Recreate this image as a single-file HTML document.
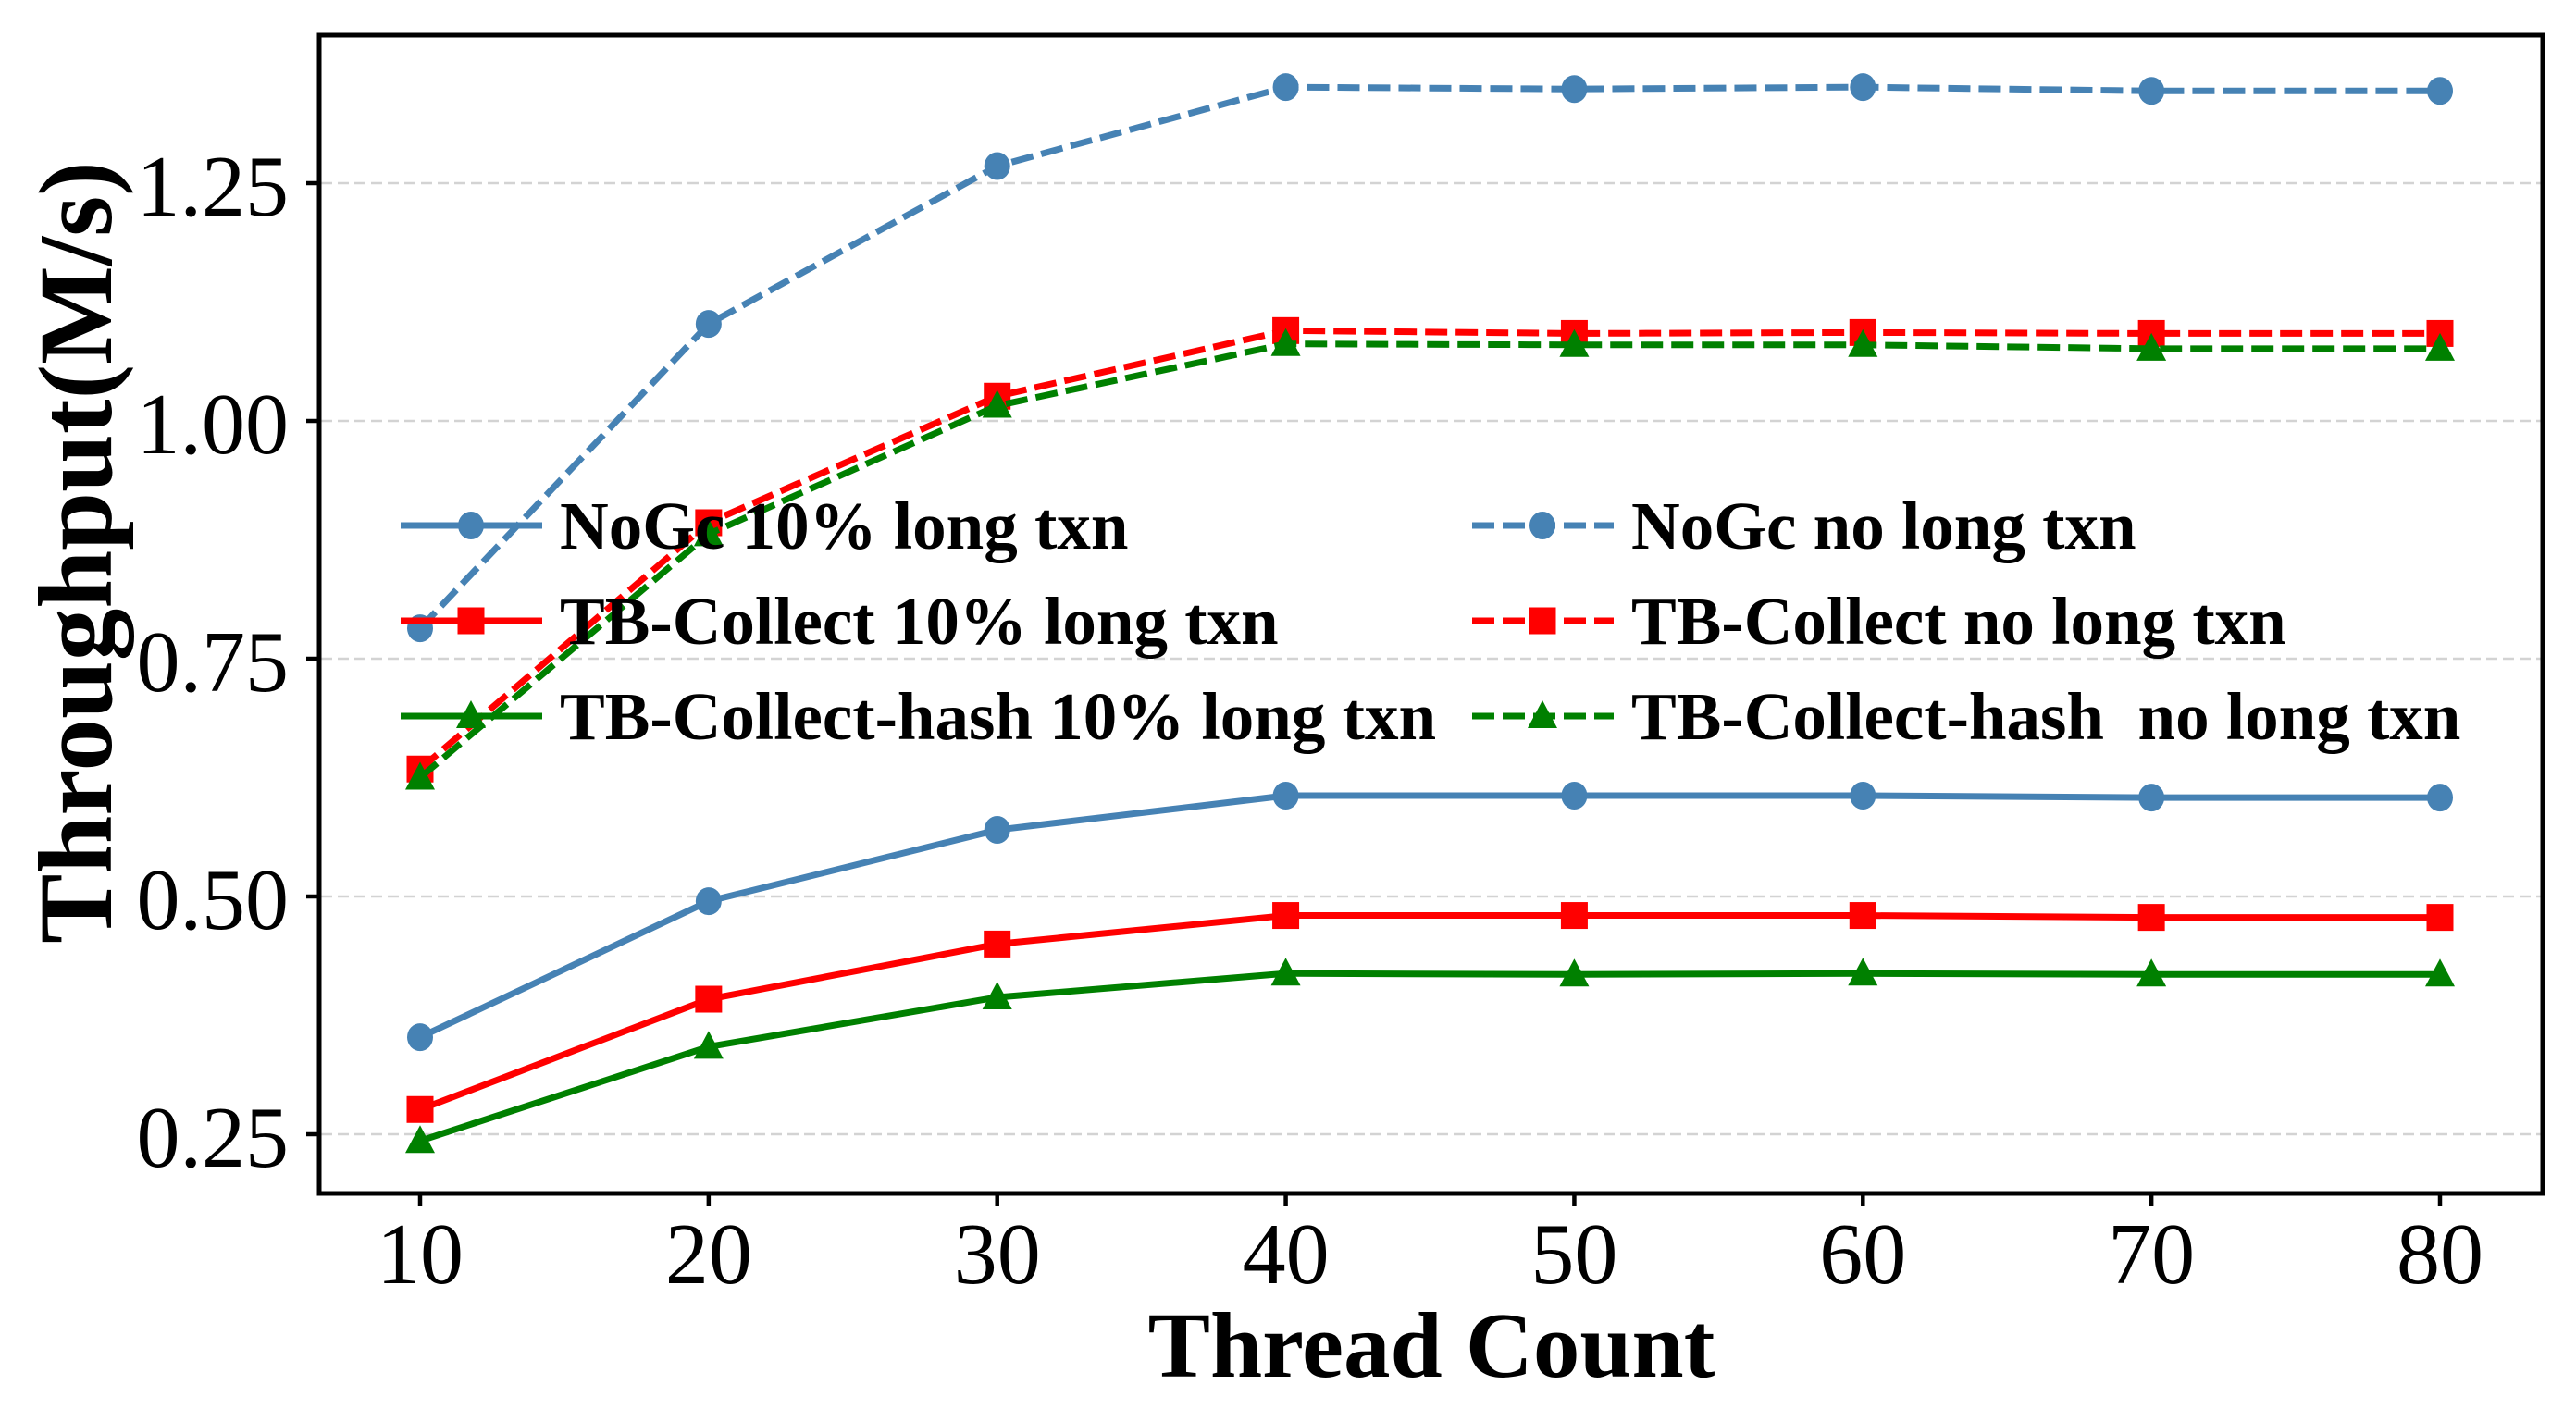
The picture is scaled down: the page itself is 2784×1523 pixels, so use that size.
<!DOCTYPE html>
<html><head><meta charset="utf-8"><style>
html,body{margin:0;padding:0;background:#fff}
svg{display:block}
text{font-family:"Liberation Serif","Times New Roman",serif;fill:#000}
</style></head><body>
<svg id="chart" width="2784" height="1523" viewBox="0 0 2784 1523" xmlns="http://www.w3.org/2000/svg">
<g id="grid"></g>
<g id="series"></g>
<rect x="345" y="38" width="2403" height="1252" fill="none" stroke="#000" stroke-width="5"/>
<g id="axes"></g>
<g id="legend"></g>
<text x="1547" y="1488" font-size="101" font-weight="bold" text-anchor="middle">Thread Count</text>
<text x="0" y="0" font-size="113" font-weight="bold" text-anchor="middle" transform="translate(120,597) rotate(-90)">Throughput(M/s)</text>
</svg>
<script>
const threads = [10,20,30,40,50,60,70,80];
const yTicks = [0.25,0.50,0.75,1.00,1.25];
const yTickLabels = ["0.25","0.50","0.75","1.00","1.25"];
const nogcLong = [0.352,0.495,0.570,0.606,0.606,0.606,0.604,0.604];
const tbLong = [0.276,0.392,0.450,0.480,0.480,0.480,0.478,0.478];
const hashLong = [0.243,0.342,0.394,0.419,0.418,0.419,0.418,0.418];
const nogcNo = [0.782,1.102,1.268,1.351,1.349,1.351,1.347,1.347];
const tbNo = [0.634,0.893,1.026,1.095,1.092,1.093,1.092,1.092];
const hashNo = [0.625,0.881,1.016,1.081,1.080,1.080,1.076,1.076];
const seriesNames = ["NoGc 10% long txn","TB-Collect 10% long txn","TB-Collect-hash 10% long txn","NoGc no long txn","TB-Collect no long txn","TB-Collect-hash  no long txn"];

const NS="http://www.w3.org/2000/svg";
function xS(v){return 454+(v-10)*(2637-454)/70;}
function yS(v){return 455-(v-1.0)*1028;}
function mk(tag,attrs,parent){const e=document.createElementNS(NS,tag);for(const k in attrs)e.setAttribute(k,attrs[k]);parent.appendChild(e);return e;}
const grid=document.getElementById('grid'),axes=document.getElementById('axes'),ser=document.getElementById('series'),leg=document.getElementById('legend');

yTicks.forEach((t,i)=>{
  const g=mk('line',{x1:347,x2:2746,y1:yS(t),y2:yS(t),stroke:'#d3d3d3','stroke-width':2.5,'stroke-dasharray':'12,6'},grid);
  
  
  const tk=mk('line',{x1:331,x2:345,y1:yS(t),y2:yS(t),stroke:'#000','stroke-width':4.5},axes);
  
  
  const tl=mk('text',{x:312,y:yS(t)+35,'font-size':94,'text-anchor':'end'},axes);
  tl.textContent=yTickLabels[i];
  
  
});
threads.forEach(t=>{
  const tk=mk('line',{x1:xS(t),x2:xS(t),y1:1290,y2:1304,stroke:'#000','stroke-width':4.5},axes);
  
  
  const tl=mk('text',{x:xS(t),y:1387,'font-size':94,'text-anchor':'middle'},axes);
  tl.textContent=String(t);
  
  
});

function marker(kind,x,y,color,parent){
  let m;
  if(kind==='circle') m=mk('ellipse',{cx:x,cy:y,rx:14,ry:15,fill:color},parent);
  else if(kind==='square') m=mk('rect',{x:x-14.5,y:y-14.5,width:29,height:29,fill:color},parent);
  else m=mk('polygon',{points:`${x},${y-17} ${x+16},${y+13} ${x-16},${y+13}`,fill:color},parent);
  return m;
}
const defs=[
  {d:nogcLong,c:'#4682b4',m:'circle',dash:null,name:'nogc-10pct-long'},
  {d:tbLong,c:'#ff0000',m:'square',dash:null,name:'tb-collect-10pct-long'},
  {d:hashLong,c:'#008000',m:'triangle',dash:null,name:'tb-collect-hash-10pct-long'},
  {d:nogcNo,c:'#4682b4',m:'circle',dash:'24,9',name:'nogc-no-long'},
  {d:tbNo,c:'#ff0000',m:'square',dash:'24,9',name:'tb-collect-no-long'},
  {d:hashNo,c:'#008000',m:'triangle',dash:'24,9',name:'tb-collect-hash-no-long'}
];
defs.forEach((s,i)=>{
  const g=mk('g',{},ser);
  
  
  const pts=s.d.map((v,j)=>xS(threads[j])+','+yS(v)).join(' ');
  const attrs={points:pts,fill:'none',stroke:s.c,'stroke-width':7,'stroke-linejoin':'round'};
  if(s.dash)attrs['stroke-dasharray']=s.dash;
  const pl=mk('polyline',attrs,g);
  
  
  s.d.forEach((v,j)=>{
    const m=marker(s.m,xS(threads[j]),yS(v),s.c,g);
    
    
  });
  const col=i<3?0:1,row=i%3;
  const lx=col?1591:433, ly=568+row*103;
  const lg=mk('g',{},leg);
  
  
  const la={x1:lx,x2:lx+153,y1:ly,y2:ly,stroke:s.c,'stroke-width':7};
  if(s.dash)la['stroke-dasharray']=s.dash;
  mk('line',la,lg);
  marker(s.m,lx+76,ly,s.c,lg);
  const t=mk('text',{x:lx+172,y:ly+25,'font-size':73,'font-weight':'bold'},lg);
  t.setAttribute('xml:space','preserve');
  t.style.whiteSpace='pre';
  t.textContent=seriesNames[i];
});
</script>
</body></html>
